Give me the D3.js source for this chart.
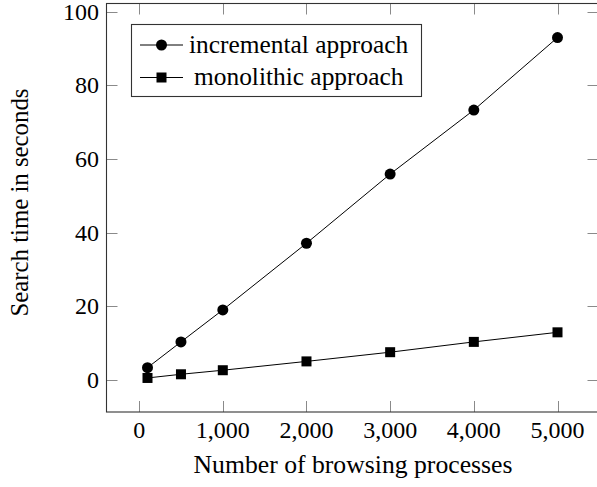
<!DOCTYPE html>
<html>
<head>
<meta charset="utf-8">
<script src="https://cdn.jsdelivr.net/npm/d3@7"></script>
<style>
  body { margin: 0; background: #fff; }
  svg { display: block; }
  text { font-family: "Liberation Serif", "Times New Roman", serif; fill: #000; }
</style>
</head>
<body>
<svg id="chart" width="597" height="487"></svg>
<script>
// data
const processes = [100, 500, 1000, 2000, 3000, 4000, 5000];
const incremental = [3.3, 10.3, 19.0, 37.1, 55.9, 73.3, 93.0];
const monolithic = [0.5, 1.5, 2.6, 5.0, 7.5, 10.3, 12.9];
const xTicks = [0, 1000, 2000, 3000, 4000, 5000];
const yTicks = [0, 20, 40, 60, 80, 100];
const seriesNames = ["incremental approach", "monolithic approach"];

const svg = d3.select("#chart");
const W = 597, H = 487;

const plotL = 106.5, plotR = 598.5, plotT = 3.5, plotB = 412;

const x = d3.scaleLinear().domain([-390, 5490]).range([plotL, plotR]);
const y = d3.scaleLinear().domain([-8.75, 102.25]).range([plotB, plotT]);

const fmt = d3.format(",");

svg.append("rect").attr("width", W).attr("height", H).attr("fill", "#fff");

// ticks (inside, on all four sides)
const tickLen = 11;
const ticks = svg.append("g").attr("stroke", "#8a8a8a").attr("stroke-width", 1);
xTicks.forEach(function (t) {
  let px = Math.round(x(t)) + 0.5;
  ticks.append("line").attr("x1", px).attr("x2", px).attr("y1", plotB).attr("y2", plotB - tickLen);
  ticks.append("line").attr("x1", px).attr("x2", px).attr("y1", plotT).attr("y2", plotT + tickLen);
});
yTicks.forEach(function (t) {
  let py = Math.round(y(t)) + 0.5;
  ticks.append("line").attr("x1", plotL).attr("x2", plotL + tickLen).attr("y1", py).attr("y2", py);
  ticks.append("line").attr("x1", plotR).attr("x2", plotR - tickLen).attr("y1", py).attr("y2", py);
});

// frame
svg.append("rect")
  .attr("x", plotL).attr("y", plotT)
  .attr("width", plotR - plotL).attr("height", plotB - plotT)
  .attr("fill", "none").attr("stroke", "#333").attr("stroke-width", 1.1);

// tick labels
svg.append("g").selectAll("text").data(xTicks).join("text")
  .attr("x", d => x(d)).attr("y", 438)
  .attr("text-anchor", "middle").attr("font-size", 24)
  .text(d => fmt(d));

svg.append("g").selectAll("text").data(yTicks).join("text")
  .attr("x", 99).attr("y", d => y(d) + 8)
  .attr("text-anchor", "end").attr("font-size", 24)
  .text(d => d);

// axis titles
svg.append("text")
  .attr("x", 353).attr("y", 473)
  .attr("text-anchor", "middle").attr("font-size", 25.7)
  .text("Number of browsing processes");

svg.append("text")
  .attr("transform", "translate(28,202.5) rotate(-90)")
  .attr("text-anchor", "middle").attr("font-size", 24.8)
  .text("Search time in seconds");

// series
const line = d3.line().x(d => x(d[0])).y(d => y(d[1]));
const incPts = processes.map((p, i) => [p, incremental[i]]);
const monPts = processes.map((p, i) => [p, monolithic[i]]);

const plot = svg.append("g");
plot.append("path").attr("d", line(incPts)).attr("fill", "none").attr("stroke", "#000").attr("stroke-width", 1);
plot.append("path").attr("d", line(monPts)).attr("fill", "none").attr("stroke", "#000").attr("stroke-width", 1);

plot.selectAll("circle.inc").data(incPts).join("circle")
  .attr("class", "inc")
  .attr("cx", d => x(d[0])).attr("cy", d => y(d[1])).attr("r", 5.5)
  .attr("fill", "#000");

const sq = 10;
plot.selectAll("rect.mon").data(monPts).join("rect")
  .attr("class", "mon")
  .attr("x", d => x(d[0]) - sq / 2).attr("y", d => y(d[1]) - sq / 2)
  .attr("width", sq).attr("height", sq)
  .attr("fill", "#000");

// legend
const legend = svg.append("g");
legend.append("rect")
  .attr("x", 131.5).attr("y", 24.5).attr("width", 290).attr("height", 72)
  .attr("fill", "#fff").attr("stroke", "#333").attr("stroke-width", 1.1);

const rows = [45, 77.5];
rows.forEach(function (ry, i) {
  legend.append("line").attr("x1", 140).attr("x2", 183).attr("y1", ry).attr("y2", ry)
    .attr("stroke", "#000").attr("stroke-width", 1);
  if (i === 0) {
    legend.append("circle").attr("cx", 161.5).attr("cy", ry).attr("r", 5.5).attr("fill", "#000");
  } else {
    legend.append("rect").attr("x", 161.5 - sq / 2).attr("y", ry - sq / 2)
      .attr("width", sq).attr("height", sq).attr("fill", "#000");
  }
  legend.append("text")
    .attr("x", i === 0 ? 189 : 194).attr("y", ry + 7.5)
    .attr("font-size", 25.4)
    .text(seriesNames[i]);
});
</script>
</body>
</html>
